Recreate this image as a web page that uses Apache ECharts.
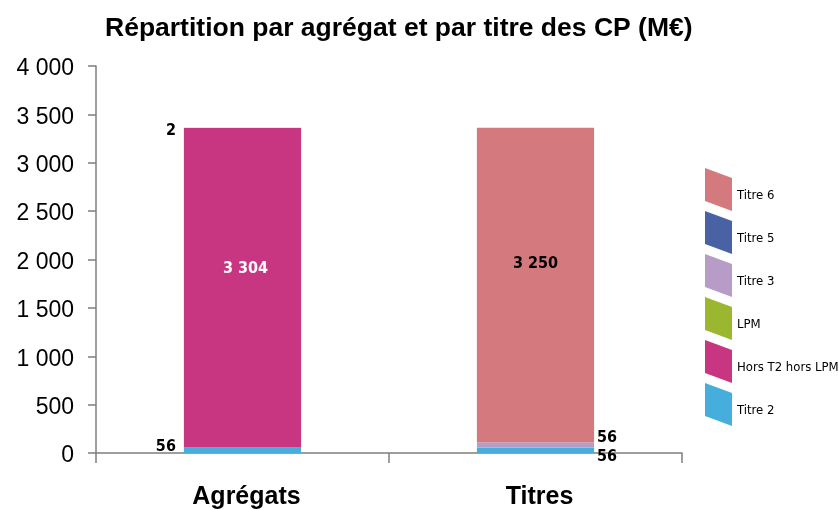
<!DOCTYPE html>
<html>
<head>
<meta charset="utf-8">
<script src="https://cdn.jsdelivr.net/npm/echarts@6/dist/echarts.min.js"></script>
<style>
  html, body { margin: 0; padding: 0; background: #fff; }
  #chart { width: 839px; height: 510px; }
</style>
</head>
<body>
<div id="chart"></div>
<script>
// Crédits de paiement (M€), ventilés par agrégat puis par titre
const categories = ['Agrégats', 'Titres'];
const titre2 = [56, 56];
const horsT2HorsLpm = [3304, null];
const lpm = [2, null];
const titre3 = [null, 56];
const titre5 = [null, null];
const titre6 = [null, 3250];
const yTicks = { min: 0, max: 4000, interval: 500 };

const legendOrder = ['Titre 6', 'Titre 5', 'Titre 3', 'LPM', 'Hors T2 hors LPM', 'Titre 2'];

const fmt = v => {
  const s = String(Math.round(v));
  return s.replace(/\B(?=(\d{3})+(?!\d))/g, ' ');
};

const labelFont = {
  fontFamily: 'DejaVu Sans Condensed',
  fontWeight: 'bold',
  fontSize: 16,
  color: '#000'
};

function sideLabel(position, offset) {
  return Object.assign({
    show: true,
    position: position,
    distance: position === 'left' ? 8 : 3,
    offset: offset,
    formatter: p => fmt(p.value)
  }, labelFont);
}

function insideLabel(offset, color) {
  return Object.assign({
    show: true,
    position: 'inside',
    offset: offset,
    formatter: p => fmt(p.value)
  }, labelFont, { color: color });
}

// Per-point labels: each stacked segment has its own placement
function points(values, labels) {
  return values.map((v, i) => {
    const item = { value: v };
    if (labels && labels[i]) item.label = labels[i];
    return item;
  });
}

const chart = echarts.init(document.getElementById('chart'), null, { renderer: 'canvas' });

chart.setOption({
  animation: false,
  backgroundColor: '#fff',
  title: {
    text: 'Répartition par agrégat et par titre des CP (M€)',
    left: 100,
    top: 10,
    textStyle: {
      fontFamily: 'Liberation Sans',
      fontWeight: 'bold',
      fontSize: 26.5,
      color: '#000'
    }
  },
  legend: {
    orient: 'vertical',
    left: 700,
    top: 163,
    itemWidth: 27,
    itemHeight: 43,
    itemGap: 0,
    icon: 'path://M0,0L27,10L27,43L0,33Z',
    data: legendOrder,
    // an empty first line pushes each name a little below the swatch centre
    formatter: name => '{gap|}\n{name|' + name + '}',
    textStyle: {
      fontFamily: 'DejaVu Sans Condensed',
      fontSize: 13,
      color: '#000',
      rich: {
        gap: { lineHeight: 12, fontSize: 1 },
        name: { lineHeight: 15, fontSize: 13, fontFamily: 'DejaVu Sans Condensed', color: '#000' }
      }
    }
  },
  grid: {
    left: 96,
    top: 66,
    width: 586,
    height: 389,
    containLabel: false
  },
  xAxis: {
    type: 'category',
    data: categories,
    axisLine: { lineStyle: { color: '#7f7f7f', width: 1.5 } },
    axisTick: { show: true, length: 10, lineStyle: { color: '#7f7f7f', width: 1.5 } },
    axisLabel: {
      margin: 32,
      padding: [0, 0, 0, 8],
      fontFamily: 'Liberation Sans',
      fontWeight: 'bold',
      fontSize: 25,
      color: '#000'
    }
  },
  yAxis: {
    type: 'value',
    min: yTicks.min,
    max: yTicks.max,
    interval: yTicks.interval,
    splitLine: { show: false },
    axisLine: { show: true, lineStyle: { color: '#7f7f7f', width: 1.5 } },
    axisTick: { show: true, length: 8, lineStyle: { color: '#7f7f7f', width: 1.5 } },
    axisLabel: {
      margin: 22,
      fontFamily: 'Liberation Sans',
      fontSize: 23,
      color: '#000',
      formatter: v => '{gap|}\n{v|' + fmt(v) + '}',
      rich: {
        gap: { lineHeight: 6, fontSize: 1 },
        v: { lineHeight: 24, fontSize: 23, fontFamily: 'Liberation Sans', color: '#000' }
      }
    }
  },
  series: [
    {
      name: 'Titre 2', type: 'bar', stack: 'cp', barWidth: '40%',
      itemStyle: { color: '#45AEDD' },
      data: points(titre2, [sideLabel('left', [0, -3]), sideLabel('right', [0, 7])])
    },
    {
      name: 'Hors T2 hors LPM', type: 'bar', stack: 'cp', barWidth: '40%',
      itemStyle: { color: '#C83681' },
      data: points(horsT2HorsLpm, [insideLabel([3, -19], '#fff')])
    },
    {
      name: 'LPM', type: 'bar', stack: 'cp', barWidth: '40%',
      itemStyle: { color: '#9BB72F' },
      data: points(lpm, [sideLabel('left', [0, 3])])
    },
    {
      name: 'Titre 3', type: 'bar', stack: 'cp', barWidth: '40%',
      itemStyle: { color: '#B89CC8' },
      data: points(titre3, [null, sideLabel('right', [0, -7])])
    },
    {
      name: 'Titre 5', type: 'bar', stack: 'cp', barWidth: '40%',
      itemStyle: { color: '#4862A3' },
      data: points(titre5)
    },
    {
      name: 'Titre 6', type: 'bar', stack: 'cp', barWidth: '40%',
      itemStyle: { color: '#D47A7E' },
      data: points(titre6, [null, insideLabel([0, -21], '#000')])
    }
  ]
});
</script>
</body>
</html>
